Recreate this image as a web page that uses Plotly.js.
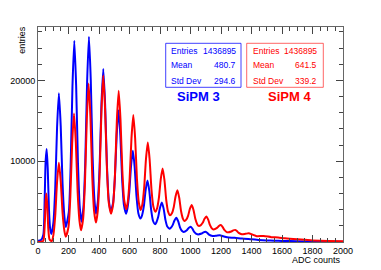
<!DOCTYPE html>
<html>
<head>
<meta charset="utf-8">
<script src="https://cdn.plot.ly/plotly-3.0.1.min.js"></script>
<style>html,body{margin:0;padding:0;background:#fff;}#chart{width:381px;height:270px;}</style>
</head>
<body>
<div id="chart"></div>
<script>
// SiPM 3 (blue) — ADC counts vs entries
const sipm3_adc = [0,20,35,44,50,57,64,72,80,88,
  101,113,125,137,149,161,173,182,
  202,214,226,238,250,262,274,285,
  298,310,322,334,346,358,370,380,
  392,404,416,428,440,452,464,477,
  492,504,516,528,540,552,564,577,
  586,598,610,622,634,646,658,672,
  682,694,706,718,730,742,754,768,
  776,788,800,812,824,836,848,862,
  871,883,895,907,919,931,943,955,
  976,988,1000,1012,1024,1045,
  1073,1085,1097,1109,1121,1145,
  1170,1192,1215,1240,1290,1337,1400,1446,1500,1550,1600,1700,1800,1900,2000];
const sipm3_entries = [150,250,900,5500,10000,11500,9000,4000,1600,1000,
  2390,6660,14140,18400,14350,7230,3180,1850,
  3690,9340,19250,24900,19410,9780,4290,2500,
  4330,9940,19790,25400,20040,10620,5250,3500,
  4930,9320,17010,21400,17090,9520,5210,3800,
  4800,7860,13240,16300,13160,7660,4520,3500,
  4120,6040,9390,11300,9240,5630,3570,2900,
  3280,4430,6450,7600,6280,3960,2630,2200,
  2420,3080,4240,4900,4100,2710,1910,1650,
  1760,2090,2670,3000,2570,1820,1390,1250,
  1460,1740,1900,1670,1260,950,
  1050,1190,1270,1140,920,750,
  780,820,700,580,520,420,330,260,200,160,130,90,60,40,30];

// SiPM 4 (red)
const sipm4_adc = [0,20,35,45,50,55,61,68,76,90,
  101,113,125,137,149,161,173,182,
  200,212,224,236,248,260,272,282,
  296,308,320,332,344,356,368,380,
  392,404,416,428,440,452,464,479,
  493,505,517,529,541,553,565,579,
  589,601,613,625,637,649,661,673,
  684,696,708,720,732,744,756,770,
  781,793,805,817,829,841,853,866,
  878,890,902,914,926,938,950,960,
  972,984,996,1008,1020,1032,1044,1053,
  1068,1080,1092,1104,1116,1128,1140,1150,
  1174,1186,1198,1210,1222,1240,
  1268,1280,1292,1304,1316,1336,
  1360,1382,1405,1435,1480,1530,1575,1620,1700,1750,1800,1900,2000];
const sipm4_entries = [0,20,150,2500,5000,6000,4500,1500,300,100,
  880,3250,7420,9800,7560,3620,1380,650,
  1870,5610,12160,15900,12360,6150,2610,1450,
  2900,7350,15150,19600,15390,7990,3780,2400,
  3860,8320,16140,20600,16410,9060,4870,3500,
  4720,8440,14980,18700,15110,8810,5220,4050,
  4980,7840,12850,15700,12820,7770,4890,3950,
  4620,6660,10250,12300,10210,6530,4430,3750,
  4180,5490,7790,9100,7680,5190,3760,3300,
  3550,4310,5640,6400,5470,3840,2900,2600,
  2760,3240,4090,4570,3940,2840,2210,2000,
  2090,2370,2870,3150,2760,2080,1690,1560,
  1740,1970,2100,1880,1490,1200,
  1300,1430,1500,1370,1130,950,
  1010,1080,920,720,750,600,560,450,330,270,200,130,80];

const xTicks = [0,200,400,600,800,1000,1200,1400,1600,1800,2000];
const yTicks = [0,10000,20000];
const yTickText = ['0','10000','20000'];
const statLabels = ['Entries','Mean','Std Dev'];
const sipm3_stats = ['1436895','480.7','294.6'];
const sipm4_stats = ['1436895','641.5','339.2'];
const seriesNames = ['SiPM 3','SiPM 4'];

const FONT = 'Liberation Sans, Arial, Helvetica, sans-serif';
const BLUE = '#0000ff', RED = '#ff0000';

const traces = [
  {x: sipm3_adc, y: sipm3_entries, type:'scatter', mode:'lines',
   line:{color:BLUE, width:2, shape:'spline', smoothing:0.6}, name:seriesNames[0], hoverinfo:'skip'},
  {x: sipm4_adc, y: sipm4_entries, type:'scatter', mode:'lines',
   line:{color:RED, width:2, shape:'spline', smoothing:0.6}, name:seriesNames[1], hoverinfo:'skip'}
];

const rowsY = [0.888, 0.823, 0.750];
const ann = [];
statLabels.forEach((lab,i)=>{
  ann.push({xref:'paper',yref:'paper',x:0.431,y:rowsY[i],xanchor:'left',yanchor:'middle',text:lab,showarrow:false,font:{family:FONT,size:8.5,color:BLUE}});
  ann.push({xref:'paper',yref:'paper',x:0.657,y:rowsY[i],xanchor:'right',yanchor:'middle',text:sipm3_stats[i],showarrow:false,font:{family:FONT,size:8.5,color:BLUE}});
  ann.push({xref:'paper',yref:'paper',x:0.697,y:rowsY[i],xanchor:'left',yanchor:'middle',text:lab,showarrow:false,font:{family:FONT,size:8.5,color:RED}});
  ann.push({xref:'paper',yref:'paper',x:0.921,y:rowsY[i],xanchor:'right',yanchor:'middle',text:sipm4_stats[i],showarrow:false,font:{family:FONT,size:8.5,color:RED}});
});
ann.push({xref:'paper',yref:'paper',x:0.525,y:0.676,xanchor:'center',yanchor:'middle',text:'<b>'+seriesNames[0]+'</b>',showarrow:false,font:{family:FONT,size:13,color:BLUE}});
ann.push({xref:'paper',yref:'paper',x:0.825,y:0.676,xanchor:'center',yanchor:'middle',text:'<b>'+seriesNames[1]+'</b>',showarrow:false,font:{family:FONT,size:13,color:RED}});
ann.push({xref:'paper',yref:'paper',x:-0.053,y:0.94,xanchor:'center',yanchor:'middle',textangle:-90,text:'entries',showarrow:false,font:{family:FONT,size:9,color:'#000'}});
ann.push({xref:'paper',yref:'paper',x:1.0,y:-0.086,xanchor:'right',yanchor:'middle',text:'ADC counts',showarrow:false,font:{family:FONT,size:9,color:'#000'}});

const layout = {
  width:381, height:270,
  margin:{l:38, r:38, t:27, b:28, pad:0},
  paper_bgcolor:'#fff', plot_bgcolor:'#fff',
  showlegend:false,
  font:{family:FONT, size:9, color:'#000'},
  xaxis:{range:[0,2000], tickvals:xTicks, ticks:'inside', ticklen:7, tickwidth:1, tickcolor:'#444',
    showline:true, linecolor:'#666', linewidth:1, mirror:'ticks', showgrid:false, zeroline:false,
    tickfont:{family:FONT,size:9,color:'#000'},
    minor:{dtick:50, ticks:'inside', ticklen:4, tickcolor:'#444', showgrid:false}},
  yaxis:{range:[0,26600], tickvals:yTicks, ticktext:yTickText, ticks:'inside', ticklen:7, tickwidth:1, tickcolor:'#444',
    showline:true, linecolor:'#666', linewidth:1, mirror:'ticks', showgrid:false, zeroline:false,
    tickfont:{family:FONT,size:9,color:'#000'},
    minor:{dtick:2000, ticks:'inside', ticklen:4, tickcolor:'#444', showgrid:false}},
  shapes:[
    {type:'rect',xref:'paper',yref:'paper',x0:0.4187,x1:0.6656,y0:0.7195,y1:0.9242,line:{color:'rgba(0,0,255,0.75)',width:1},fillcolor:'#fff',layer:'above'},
    {type:'rect',xref:'paper',yref:'paper',x0:0.6843,x1:0.9354,y0:0.7195,y1:0.9242,line:{color:'rgba(255,0,0,0.6)',width:1},fillcolor:'#fff',layer:'above'}
  ],
  annotations:ann
};
Plotly.newPlot('chart', traces, layout, {displayModeBar:false, staticPlot:true});
</script>
</body>
</html>
